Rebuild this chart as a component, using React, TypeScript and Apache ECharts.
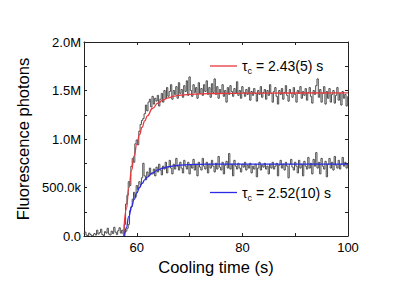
import React, { useEffect, useRef } from 'react';
import * as echarts from 'echarts';

// Measured traces, in thousands of photons, binned every 0.25 s
const UPPER_START = 50;
const LOWER_START = 57.75;
const BIN = 0.25;

const upperK = [
  20, 40, 10, 0,
  30, 15, 5, 0,
  25, 10, 60, 20,
  35, 70, 15, 5,
  45, 30, 80, 20,
  10, 50, 25, 90,
  40, 15, 55, 85,
  30, 60, 20, 120,
  330, 420, 560, 520,
  720, 800, 760, 950,
  990, 940, 1080, 1150,
  1190, 1210, 1260, 1350,
  1290, 1380, 1410, 1330,
  1440, 1360, 1420, 1390,
  1450, 1340, 1410, 1470,
  1380, 1500, 1420, 1530,
  1440, 1490, 1560, 1410,
  1500, 1460, 1540, 1420,
  1580, 1470, 1510, 1430,
  1550, 1490, 1600, 1450,
  1640, 1500, 1440, 1560,
  1480, 1530, 1420, 1580,
  1470, 1520, 1450, 1560,
  1490, 1600, 1460, 1530,
  1430, 1570, 1480, 1620,
  1460, 1540, 1420, 1510,
  1470, 1560, 1440, 1500,
  1380, 1530, 1460, 1550,
  1490, 1440, 1520, 1470,
  1590, 1450, 1500, 1420,
  1540, 1480, 1440, 1510,
  1460, 1530, 1400, 1490,
  1450, 1520, 1470, 1390,
  1500, 1460, 1540, 1430,
  1480, 1510, 1410, 1500,
  1450, 1560, 1470, 1380,
  1490, 1530, 1440, 1360,
  1500, 1460, 1520, 1410,
  1480, 1550, 1450, 1390,
  1510, 1470, 1430, 1530,
  1460, 1380, 1500, 1470,
  1540, 1420, 1490, 1450,
  1520, 1400, 1480, 1530,
  1440, 1370, 1500, 1460,
  1550, 1620, 1430, 1510,
  1380, 1470, 1540, 1360,
  1490, 1420, 1520, 1380,
  1460, 1500, 1370, 1450,
  1530, 1400, 1470, 1350,
  1490, 1420, 1460, 1340,
  1440,
];

const lowerK = [
  30,
  50, 80, 120, 260,
  300, 380, 450, 400,
  520, 480, 560, 530,
  600, 750, 620, 580,
  660, 620, 700, 640,
  640, 690, 620, 710,
  660, 740, 680, 630,
  720, 690, 760, 650,
  710, 780, 700, 640,
  740, 690, 800, 720,
  680, 760, 700, 650,
  780, 720, 690, 760,
  640, 730, 700, 790,
  680, 740, 620, 760,
  710, 680, 800, 720,
  690, 760, 650, 740,
  700, 780, 720, 660,
  750, 690, 820, 710,
  680, 760, 640, 730,
  770, 700, 850, 690,
  740, 620, 780, 720,
  690, 750, 700, 660,
  740, 710, 760, 680,
  730, 700, 750, 650,
  720, 690, 740, 610,
  700, 760, 680, 730,
  710, 750, 690, 720,
  640, 740, 700, 760,
  690, 720, 750, 620,
  730, 780, 700, 740,
  680, 760, 720, 600,
  740, 790, 710, 680,
  760, 720, 650, 780,
  700, 740, 620, 770,
  720, 690, 810, 700,
  750, 640, 790, 720,
  860, 700, 760, 640,
  800, 720, 690, 770,
  610, 740, 800, 700,
  760, 680, 820, 730,
  700, 780, 690, 740,
  810, 720, 760, 700,
  740,
];

// Fit curves (thousands)
const fitRedT = [57.5, 58, 58.5, 59, 59.5, 60, 60.5, 61, 61.5, 62, 63, 64, 65, 66, 67, 68, 70, 72, 75, 80, 90, 100];
const fitRedK = [0, 273, 496, 676, 825, 945, 1042, 1121, 1186, 1239, 1317, 1369, 1403, 1425, 1441, 1451, 1461, 1466, 1469, 1472, 1474, 1475];
const fitBlueT = [57.7, 58, 58.5, 59, 59.5, 60, 60.5, 61, 61.5, 62, 63, 64, 65, 66, 67, 68, 70, 72, 75, 80, 90, 100];
const fitBlueK = [0, 83, 202, 299, 378, 444, 498, 542, 578, 607, 651, 681, 701, 715, 723, 730, 736, 739, 741, 742, 742, 742];

const fitNames = ['τc = 2.43(5) s', 'τc = 2.52(10) s'];
const xLabelValues = [60, 80, 100];
const yLabelValues = [0, 500000, 1000000, 1500000, 2000000];

const FONT = '"Liberation Sans", Arial, sans-serif';

function fmtY(v: number): string {
  if (!yLabelValues.includes(v)) return '';
  if (v === 0) return '0.0';
  if (v < 1e6) return (v / 1000).toFixed(1) + 'k';
  return (v / 1e6).toFixed(1) + 'M';
}

export default function App() {
  const ref = useRef<HTMLDivElement>(null);
  useEffect(() => {
    if (!ref.current) return;
    const chart = echarts.init(ref.current, undefined, { renderer: 'svg' });
    const axisColor = '#222';
    const legendCommon = {
      left: 210,
      itemWidth: 27,
      itemHeight: 1.3,
      icon: 'rect',
      padding: 0,
      formatter: (name: string) => '{t|τ}{s|c}{t|' + name.slice(2) + '}',
      textStyle: {
        rich: {
          t: { fontSize: 14, fontFamily: FONT, color: '#000', padding: [3, 0, 3, 0], verticalAlign: 'bottom' },
          s: { fontSize: 9, fontFamily: FONT, color: '#000', verticalAlign: 'bottom' },
        },
      },
    };
    chart.setOption({
      animation: false,
      backgroundColor: '#fff',
      grid: { left: 84, right: 67, top: 42, bottom: 58, containLabel: false },
      legend: [
        { ...legendCommon, top: 59, data: [fitNames[0]] },
        { ...legendCommon, top: 185.5, data: [fitNames[1]] },
      ],
      xAxis: [
        {
          type: 'value', position: 'bottom', min: 50, max: 100, interval: 10,
          name: 'Cooling time (s)', nameLocation: 'middle', nameGap: 20,
          nameTextStyle: { fontSize: 16.5, fontFamily: FONT, color: '#000' },
          axisLine: { show: true, onZero: false, lineStyle: { color: axisColor, width: 1 } },
          axisTick: { show: true, inside: true, length: 3, lineStyle: { color: axisColor } },
          axisLabel: {
            margin: 5, fontSize: 13, fontFamily: FONT, color: '#000',
            formatter: (v: number) => (xLabelValues.includes(v) ? String(v) : ''),
          },
          splitLine: { show: false },
        },
        {
          type: 'value', position: 'top', min: 50, max: 100, interval: 10,
          axisLine: { show: true, onZero: false, lineStyle: { color: axisColor, width: 1 } },
          axisTick: { show: true, inside: true, length: 3, lineStyle: { color: axisColor } },
          axisLabel: { show: false },
          splitLine: { show: false },
        },
      ],
      yAxis: [
        {
          type: 'value', position: 'left', min: 0, max: 2000000, interval: 250000,
          name: 'Fluorescence photons', nameLocation: 'middle', nameGap: 47,
          nameTextStyle: { fontSize: 16.5, fontFamily: FONT, color: '#000' },
          axisLine: { show: true, onZero: false, lineStyle: { color: axisColor, width: 1 } },
          axisTick: { show: true, inside: true, length: 3, lineStyle: { color: axisColor } },
          axisLabel: { margin: 3, fontSize: 13, fontFamily: FONT, color: '#000', formatter: fmtY },
          splitLine: { show: false },
        },
        {
          type: 'value', position: 'right', min: 0, max: 2000000, interval: 250000,
          axisLine: { show: true, onZero: false, lineStyle: { color: axisColor, width: 1 } },
          axisTick: { show: true, inside: true, length: 3, lineStyle: { color: axisColor } },
          axisLabel: { show: false },
          splitLine: { show: false },
        },
      ],
      series: [
        {
          name: 'data high', type: 'line', xAxisIndex: 0, yAxisIndex: 0, step: 'middle',
          symbol: 'none', silent: true, z: 1,
          lineStyle: { color: '#3c3c3c', width: 0.9 },
          data: upperK.map((v, i) => [UPPER_START + i * BIN, v * 1000]),
        },
        {
          name: 'data low', type: 'line', xAxisIndex: 0, yAxisIndex: 0, step: 'middle',
          symbol: 'none', silent: true, z: 1,
          lineStyle: { color: '#3c3c3c', width: 0.9 },
          data: lowerK.map((v, i) => [LOWER_START + i * BIN, v * 1000]),
        },
        {
          name: fitNames[0], type: 'line', xAxisIndex: 0, yAxisIndex: 0, smooth: true,
          smoothMonotone: 'x', symbol: 'none', silent: true, z: 3,
          color: '#e8383d',
          lineStyle: { color: '#e8383d', width: 1.3 },
          data: fitRedT.map((t, i) => [t, fitRedK[i] * 1000]),
        },
        {
          name: fitNames[1], type: 'line', xAxisIndex: 0, yAxisIndex: 0, smooth: true,
          smoothMonotone: 'x', symbol: 'none', silent: true, z: 3,
          color: '#2a2ae6',
          lineStyle: { color: '#2a2ae6', width: 1.3 },
          data: fitBlueT.map((t, i) => [t, fitBlueK[i] * 1000]),
        },
      ],
    });
    return () => chart.dispose();
  }, []);
  return (
    <div
      ref={ref}
      style={{ position: 'absolute', left: 0, top: 0, width: 415, height: 294 }}
    />
  );
}
